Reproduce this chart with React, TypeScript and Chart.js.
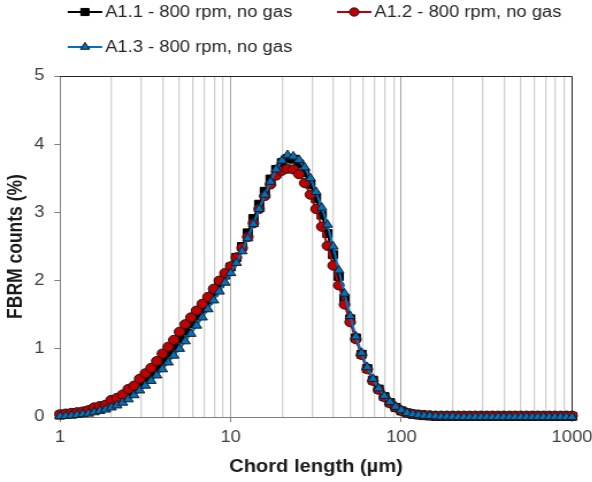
import React, { useEffect, useRef } from 'react';
import { Chart, registerables } from 'chart.js';

Chart.register(...registerables);

// ---------- data ----------
const chordLength = [
  1, 1.0798, 1.1659, 1.2589, 1.3594, 1.4678, 1.5849, 1.7113, 1.8478, 1.9953,
  2.1544, 2.3263, 2.5119, 2.7123, 2.9286, 3.1623, 3.4145, 3.6869, 3.9811, 4.2987,
  4.6416, 5.0119, 5.4117, 5.8434, 6.3096, 6.8129, 7.3564, 7.9433, 8.577, 9.2611,
  10, 10.798, 11.659, 12.589, 13.594, 14.678, 15.849, 17.113, 18.478, 19.953,
  21.544, 23.263, 25.119, 27.123, 29.286, 31.623, 34.145, 36.869, 39.811, 42.987,
  46.416, 50.119, 54.117, 58.434, 63.096, 68.129, 73.564, 79.433, 85.77, 92.611,
  100, 107.98, 116.59, 125.89, 135.94, 146.78, 158.49, 171.13, 184.78, 199.53,
  215.44, 232.63, 251.19, 271.23, 292.86, 316.23, 341.45, 368.69, 398.11, 429.87,
  464.16, 501.19, 541.17, 584.34, 630.96, 681.29, 735.64, 794.33, 857.7, 926.11,
  1000,
];

const countsA11 = [
  0.03, 0.04, 0.05, 0.06, 0.07, 0.09, 0.12, 0.14, 0.16, 0.22,
  0.25, 0.29, 0.36, 0.41, 0.49, 0.57, 0.65, 0.74, 0.84, 0.94,
  1.04, 1.15, 1.26, 1.37, 1.48, 1.59, 1.71, 1.83, 1.96, 2.08,
  2.20, 2.34, 2.50, 2.70, 2.91, 3.12, 3.31, 3.49, 3.63, 3.73,
  3.79, 3.78, 3.71, 3.58, 3.41, 3.20, 2.96, 2.69, 2.38, 2.06,
  1.74, 1.44, 1.16, 0.92, 0.71, 0.54, 0.41, 0.30, 0.21, 0.14,
  0.09, 0.06, 0.04, 0.03, 0.02, 0.015, 0.01, 0.01, 0.01, 0.01,
  0.01, 0.01, 0.01, 0.01, 0.01, 0.01, 0.01, 0.01, 0.01, 0.01,
  0.01, 0.01, 0.01, 0.01, 0.01, 0.01, 0.01, 0.01, 0.01, 0.01,
  0.01,
];

const countsA12 = [
  0.04, 0.05, 0.06, 0.07, 0.08, 0.10, 0.14, 0.16, 0.18, 0.25,
  0.28, 0.33, 0.41, 0.46, 0.56, 0.64, 0.72, 0.82, 0.93, 1.03,
  1.13, 1.25, 1.36, 1.46, 1.56, 1.66, 1.76, 1.88, 2.00, 2.11,
  2.21, 2.34, 2.48, 2.64, 2.84, 3.05, 3.24, 3.41, 3.54, 3.61,
  3.64, 3.63, 3.56, 3.43, 3.26, 3.05, 2.79, 2.51, 2.22, 1.93,
  1.65, 1.39, 1.14, 0.91, 0.70, 0.53, 0.40, 0.29, 0.20, 0.14,
  0.09, 0.06, 0.045, 0.035, 0.03, 0.025, 0.02, 0.02, 0.02, 0.02,
  0.02, 0.02, 0.02, 0.02, 0.02, 0.02, 0.02, 0.02, 0.02, 0.02,
  0.02, 0.02, 0.02, 0.02, 0.02, 0.02, 0.02, 0.02, 0.02, 0.02,
  0.02,
];

const countsA13 = [
  0.01, 0.015, 0.02, 0.03, 0.04, 0.05, 0.07, 0.09, 0.11, 0.14,
  0.17, 0.21, 0.26, 0.32, 0.39, 0.46, 0.53, 0.61, 0.70, 0.80,
  0.90, 1.00, 1.11, 1.22, 1.34, 1.46, 1.58, 1.71, 1.84, 1.97,
  2.11, 2.26, 2.43, 2.62, 2.83, 3.05, 3.26, 3.45, 3.63, 3.76,
  3.84, 3.82, 3.77, 3.66, 3.50, 3.30, 3.07, 2.82, 2.50, 2.15,
  1.81, 1.48, 1.18, 0.94, 0.73, 0.56, 0.42, 0.31, 0.22, 0.15,
  0.10, 0.06, 0.04, 0.03, 0.02, 0.015, 0.01, 0.005, 0.005, 0.005,
  0, 0, 0, 0, 0, 0, 0, 0, 0, 0,
  0, 0, 0, 0, 0, 0, 0, 0, 0, 0,
  0,
];

const seriesLabels = [
  'A1.1 - 800 rpm, no gas',
  'A1.2 - 800 rpm, no gas',
  'A1.3 - 800 rpm, no gas',
];

const xGridTicks = [
  1, 2, 3, 4, 5, 6, 7, 8, 9,
  10, 20, 30, 40, 50, 60, 70, 80, 90,
  100, 200, 300, 400, 500, 600, 700, 800, 900,
  1000,
];
const xLabelTicks = [1, 10, 100, 1000];
const yTicks = [0, 1, 2, 3, 4, 5];

const xTitle = 'Chord length (µm)';
const yTitle = 'FBRM counts (%)';

// ---------- layout / style ----------
const STRETCH_X = 1.15;
const CANVAS_W = 515;
const CANVAS_H = 482;
const FONT = '"Liberation Sans", Arial, Helvetica, sans-serif';

const LEGEND_POS: [number, number][] = [
  [58.9, 12],
  [293, 12],
  [58.9, 47],
];

function drawMarker(
  ctx: CanvasRenderingContext2D,
  style: string,
  x: number,
  y: number,
  r: number,
  fill: string,
  stroke: string
) {
  ctx.save();
  ctx.fillStyle = fill;
  ctx.strokeStyle = stroke;
  ctx.lineWidth = 1;
  ctx.beginPath();
  if (style === 'rect') {
    const s = r * Math.SQRT1_2;
    ctx.rect(x - s, y - s, 2 * s, 2 * s);
  } else if (style === 'triangle') {
    let rad = 0;
    ctx.moveTo(x + Math.sin(rad) * r, y - Math.cos(rad) * r);
    rad += (2 * Math.PI) / 3;
    ctx.lineTo(x + Math.sin(rad) * r, y - Math.cos(rad) * r);
    rad += (2 * Math.PI) / 3;
    ctx.lineTo(x + Math.sin(rad) * r, y - Math.cos(rad) * r);
    ctx.closePath();
  } else {
    ctx.arc(x, y, r, 0, Math.PI * 2);
  }
  ctx.fill();
  ctx.stroke();
  ctx.restore();
}

const legendPlugin = {
  id: 'lineMarkerLegend',
  afterDraw(chart: any) {
    const ctx: CanvasRenderingContext2D = chart.ctx;
    ctx.save();
    LEGEND_POS.forEach(([x, y], i) => {
      const ds = chart.data.datasets[i];
      ctx.strokeStyle = ds.borderColor;
      ctx.lineWidth = 2;
      ctx.beginPath();
      ctx.moveTo(x, y);
      ctx.lineTo(x + 30, y);
      ctx.stroke();
      drawMarker(ctx, ds.pointStyle, x + 15, y, ds.pointRadius * 0.9, ds.pointBackgroundColor, ds.pointBorderColor);
      ctx.fillStyle = '#262626';
      ctx.font = `16px ${FONT}`;
      ctx.textAlign = 'left';
      ctx.textBaseline = 'middle';
      ctx.fillText(ds.label, x + 32.5, y + 0.5);
    });
    ctx.restore();
  },
};

const framePlugin = {
  id: 'plotFrame',
  beforeDatasetsDraw(chart: any) {
    const { ctx, chartArea } = chart;
    const { left, right, top, bottom } = chartArea;
    ctx.save();
    ctx.strokeStyle = '#262626';
    ctx.lineWidth = 1;
    ctx.beginPath();
    ctx.moveTo(left, top + 0.5);
    ctx.lineTo(Math.round(right) + 0.5, top + 0.5);
    ctx.lineTo(Math.round(right) + 0.5, bottom);
    ctx.stroke();
    ctx.restore();
  },
};

const isMajor = (v: number) => xLabelTicks.includes(v);

export default function App() {
  const canvasRef = useRef<HTMLCanvasElement | null>(null);

  useEffect(() => {
    document.body.style.margin = '0';
    const canvas = canvasRef.current;
    if (!canvas) return;

    const toPoints = (ys: number[]) => chordLength.map((x, i) => ({ x, y: ys[i] }));

    const chart = new Chart(canvas, {
      type: 'line',
      data: {
        datasets: [
          {
            label: seriesLabels[0],
            data: toPoints(countsA11),
            borderColor: '#000000',
            backgroundColor: '#000000',
            borderWidth: 2,
            pointStyle: 'rect',
            pointRadius: 5.6,
            pointBackgroundColor: '#000000',
            pointBorderColor: '#000000',
            pointBorderWidth: 1,
            order: 3,
            clip: false,
          },
          {
            label: seriesLabels[1],
            data: toPoints(countsA12),
            borderColor: '#c00000',
            backgroundColor: '#c00000',
            borderWidth: 2,
            pointStyle: 'circle',
            pointRadius: 4.6,
            pointBackgroundColor: '#c00000',
            pointBorderColor: '#1a1a1a',
            pointBorderWidth: 1,
            order: 2,
            clip: false,
          },
          {
            label: seriesLabels[2],
            data: toPoints(countsA13),
            borderColor: '#0070c0',
            backgroundColor: '#0070c0',
            borderWidth: 2,
            pointStyle: 'triangle',
            pointRadius: 5.1,
            pointBackgroundColor: '#0070c0',
            pointBorderColor: '#1a1a1a',
            pointBorderWidth: 1,
            order: 1,
            clip: false,
          },
        ] as any,
      },
      options: {
        responsive: false,
        maintainAspectRatio: false,
        animation: false,
        events: [],
        devicePixelRatio: 1,
        layout: { padding: { top: 76, right: CANVAS_W - 497.4, left: 0, bottom: 0 } },
        elements: { line: { tension: 0 } },
        plugins: {
          legend: { display: false },
          tooltip: { enabled: false },
        },
        scales: {
          x: {
            type: 'logarithmic',
            min: 1,
            max: 1000,
            afterBuildTicks: (scale: any) => {
              scale.ticks = xGridTicks.map((v) => ({ value: v }));
            },
            afterFit: (scale: any) => {
              scale.height = 65;
              scale.paddingLeft = 0;
              scale.paddingRight = 0;
            },
            ticks: {
              autoSkip: false,
              maxRotation: 0,
              minRotation: 0,
              padding: 6,
              color: '#404040',
              font: { size: 16, family: FONT },
              callback: (value: any) => (isMajor(Number(value)) ? String(value) : ''),
            },
            grid: {
              drawOnChartArea: true,
              drawTicks: true,
              tickLength: 5,
              color: (c: any) => (isMajor(c.tick?.value) ? '#a6a6a6' : '#d0d0d0'),
              lineWidth: (c: any) => (isMajor(c.tick?.value) ? 1 : 1.3),
              tickColor: (c: any) => (isMajor(c.tick?.value) ? '#808080' : 'rgba(0,0,0,0)'),
              tickWidth: 1,
            },
            border: { display: true, color: '#808080', width: 1 },
            title: {
              display: true,
              text: xTitle,
              color: '#1a1a1a',
              font: { size: 17.5, weight: 'bold', family: FONT },
              padding: { top: 0, bottom: 4 },
            },
          },
          y: {
            type: 'linear',
            min: 0,
            max: 5,
            afterBuildTicks: (scale: any) => {
              scale.ticks = yTicks.map((v) => ({ value: v }));
            },
            afterFit: (scale: any) => {
              scale.width = 52.2;
            },
            ticks: {
              padding: 8.5,
              color: '#404040',
              font: { size: 16, family: FONT },
            },
            grid: {
              drawOnChartArea: false,
              drawTicks: true,
              tickLength: 5,
              tickColor: '#808080',
            },
            border: { display: true, color: '#808080', width: 1 },
            title: {
              display: true,
              text: yTitle,
              color: '#1a1a1a',
              font: { size: 17.5, weight: 'bold', family: FONT },
              padding: { top: 4, bottom: 0 },
            },
          },
        },
      } as any,
      plugins: [framePlugin, legendPlugin],
    });

    return () => {
      chart.destroy();
    };
  }, []);

  return (
    <div
      style={{
        position: 'absolute',
        left: 0,
        top: 0,
        width: CANVAS_W,
        height: CANVAS_H,
        transform: `scaleX(${STRETCH_X})`,
        transformOrigin: '0 0',
      }}
    >
      <canvas ref={canvasRef} width={CANVAS_W} height={CANVAS_H} />
    </div>
  );
}
